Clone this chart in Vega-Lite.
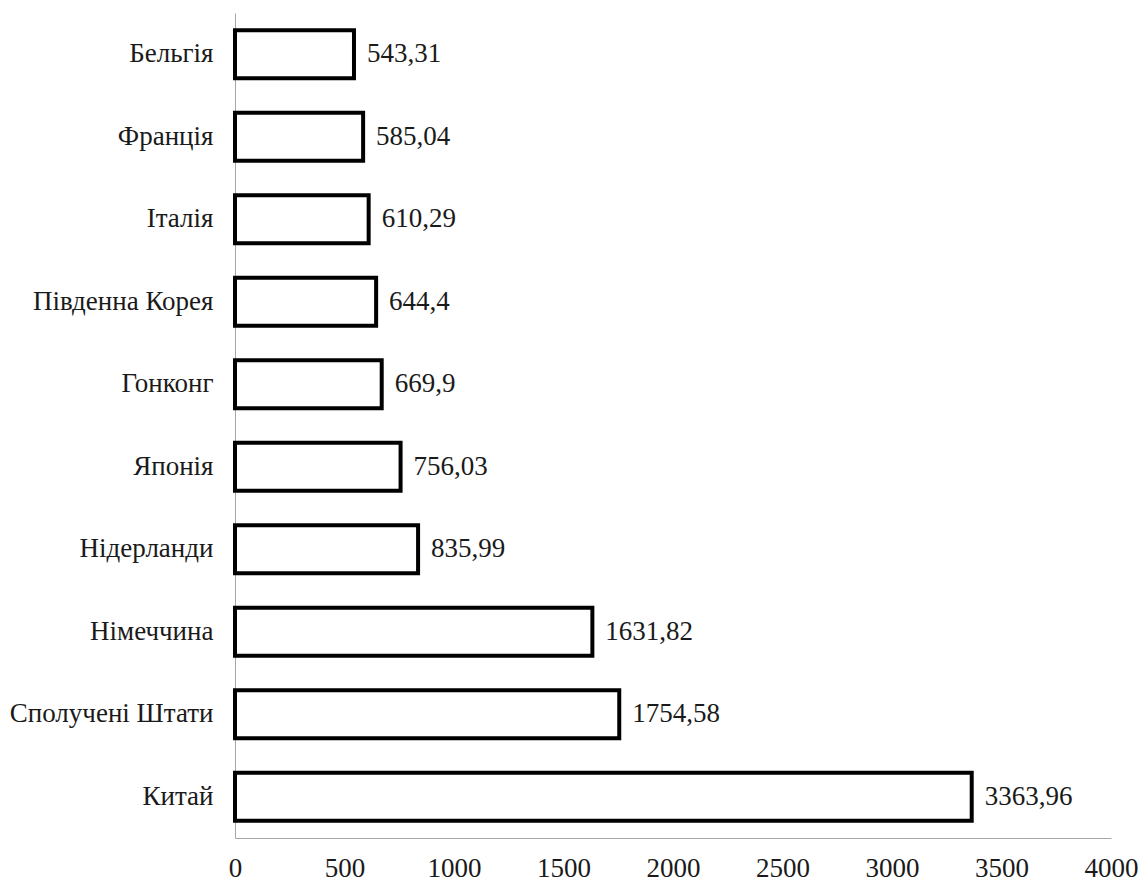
{
  "$schema": "https://vega.github.io/schema/vega-lite/v6.json",
  "autosize": "none",
  "width": 876,
  "height": 825,
  "padding": {"left": 235, "top": 13, "right": 30, "bottom": 41},
  "background": "white",
  "config": {
    "view": {"stroke": null},
    "locale": {"number": {"decimal": ",", "thousands": "", "grouping": [3], "currency": ["", ""]}},
    "font": "Liberation Serif"
  },
  "data": {"values": [
    {"country": "Бельгія", "value": 543.31},
    {"country": "Франція", "value": 585.04},
    {"country": "Італія", "value": 610.29},
    {"country": "Південна Корея", "value": 644.4},
    {"country": "Гонконг", "value": 669.9},
    {"country": "Японія", "value": 756.03},
    {"country": "Нідерланди", "value": 835.99},
    {"country": "Німеччина", "value": 1631.82},
    {"country": "Сполучені Штати", "value": 1754.58},
    {"country": "Китай", "value": 3363.96}
  ]},
  "encoding": {
    "y": {"field": "country", "type": "nominal", "sort": {"field": "value", "order": "ascending"},
      "scale": {"paddingInner": 0.42, "paddingOuter": 0.21},
      "axis": {"title": null, "ticks": false, "domainColor": "#a6a6a6", "domainWidth": 1, "labelFont": "Liberation Serif", "labelFontSize": 27, "labelColor": "#1a1a1a", "labelPadding": 22, "labelLimit": 300}},
    "x": {"field": "value", "type": "quantitative",
      "scale": {"domain": [0, 4000], "nice": false},
      "axis": {"title": null, "ticks": false, "grid": false, "values": [0, 500, 1000, 1500, 2000, 2500, 3000, 3500, 4000], "format": "d", "domainColor": "#a6a6a6", "domainWidth": 1, "labelFont": "Liberation Serif", "labelFontSize": 27, "labelColor": "#1a1a1a", "labelPadding": 17, "labelFlush": false}}
  },
  "layer": [
    {"mark": {"type": "bar", "fill": "white", "stroke": "black", "strokeWidth": 4, "cornerRadius": 0}},
    {"mark": {"type": "text", "align": "left", "baseline": "middle", "dx": 13, "fontSize": 27, "font": "Liberation Serif", "color": "#1a1a1a"},
      "encoding": {"text": {"field": "value", "type": "quantitative", "format": "~f"}}}
  ]
}
